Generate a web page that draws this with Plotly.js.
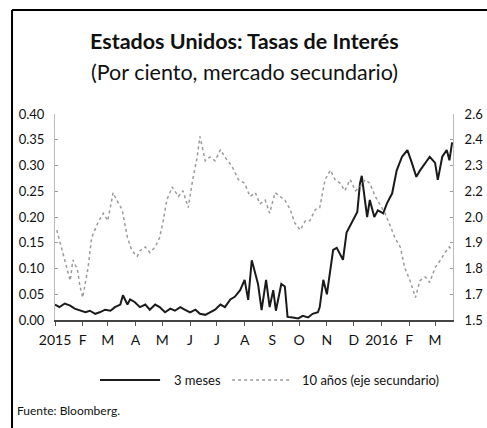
<!DOCTYPE html>
<html>
<head>
<meta charset="utf-8">
<script src="https://cdn.plot.ly/plotly-3.0.1.min.js"></script>
<style>html,body{margin:0;padding:0;background:#fff;}#chart{width:487px;height:428px;}</style>
</head>
<body>
<div id="chart"></div>
<script>
// 3-month T-bill (left axis)
var dates3m = ['2015-01-01','2015-01-06','2015-01-12','2015-01-18','2015-01-23','2015-01-29','2015-02-04','2015-02-09','2015-02-15','2015-02-20','2015-02-26','2015-03-04','2015-03-09','2015-03-15','2015-03-18','2015-03-23','2015-03-26','2015-03-31','2015-04-06','2015-04-12','2015-04-17','2015-04-23','2015-04-28','2015-05-04','2015-05-10','2015-05-15','2015-05-21','2015-05-26','2015-06-01','2015-06-07','2015-06-12','2015-06-18','2015-06-23','2015-06-29','2015-07-05','2015-07-10','2015-07-16','2015-07-21','2015-07-27','2015-08-01','2015-08-05','2015-08-09','2015-08-13','2015-08-16','2015-08-20','2015-08-25','2015-08-29','2015-09-02','2015-09-05','2015-09-11','2015-09-15','2015-09-18','2015-09-24','2015-09-30','2015-10-05','2015-10-11','2015-10-16','2015-10-22','2015-10-24','2015-10-28','2015-11-01','2015-11-08','2015-11-12','2015-11-19','2015-11-23','2015-11-29','2015-12-05','2015-12-08','2015-12-10','2015-12-16','2015-12-19','2015-12-24','2015-12-28','2016-01-03','2016-01-07','2016-01-13','2016-01-18','2016-01-24','2016-01-30','2016-02-04','2016-02-09','2016-02-13','2016-02-19','2016-02-24','2016-03-01','2016-03-04','2016-03-09','2016-03-14','2016-03-17','2016-03-20'];
var rate3m = [0.030,0.025,0.032,0.028,0.022,0.018,0.015,0.018,0.012,0.015,0.020,0.018,0.025,0.030,0.048,0.030,0.040,0.035,0.025,0.030,0.020,0.030,0.025,0.015,0.022,0.018,0.025,0.020,0.015,0.020,0.012,0.010,0.015,0.020,0.030,0.025,0.040,0.045,0.058,0.078,0.039,0.116,0.090,0.070,0.019,0.078,0.025,0.058,0.018,0.070,0.065,0.006,0.005,0.003,0.008,0.005,0.012,0.015,0.025,0.078,0.050,0.136,0.140,0.117,0.170,0.190,0.210,0.265,0.280,0.200,0.233,0.200,0.213,0.207,0.226,0.246,0.290,0.317,0.330,0.305,0.278,0.290,0.305,0.317,0.305,0.272,0.317,0.330,0.310,0.345];

// 10-year Treasury (right axis)
var dates10y = ['2015-01-03','2015-01-09','2015-01-14','2015-01-18','2015-01-21','2015-01-26','2015-01-29','2015-02-01','2015-02-07','2015-02-11','2015-02-18','2015-02-24','2015-03-01','2015-03-07','2015-03-11','2015-03-17','2015-03-23','2015-03-28','2015-04-03','2015-04-06','2015-04-12','2015-04-17','2015-04-23','2015-04-28','2015-05-02','2015-05-06','2015-05-12','2015-05-19','2015-05-24','2015-05-30','2015-06-04','2015-06-09','2015-06-12','2015-06-18','2015-06-23','2015-06-29','2015-07-05','2015-07-10','2015-07-18','2015-07-25','2015-08-01','2015-08-07','2015-08-13','2015-08-18','2015-08-24','2015-08-29','2015-09-04','2015-09-10','2015-09-15','2015-09-21','2015-09-26','2015-10-02','2015-10-08','2015-10-13','2015-10-19','2015-10-24','2015-10-30','2015-11-05','2015-11-10','2015-11-16','2015-11-21','2015-11-27','2015-12-03','2015-12-08','2015-12-14','2015-12-19','2015-12-25','2015-12-30','2016-01-05','2016-01-11','2016-01-16','2016-01-22','2016-01-27','2016-02-02','2016-02-08','2016-02-13','2016-02-19','2016-02-24','2016-03-01','2016-03-07','2016-03-12','2016-03-17','2016-03-20'];
var rate10y = [1.98,1.87,1.78,1.71,1.82,1.77,1.68,1.62,1.78,1.94,2.02,2.07,2.03,2.18,2.14,2.09,1.94,1.87,1.84,1.87,1.89,1.86,1.89,1.94,2.03,2.14,2.21,2.16,2.19,2.10,2.25,2.37,2.48,2.35,2.37,2.35,2.41,2.37,2.32,2.25,2.23,2.16,2.18,2.12,2.14,2.07,2.18,2.16,2.14,2.09,2.02,1.98,2.03,2.03,2.09,2.10,2.25,2.30,2.25,2.23,2.19,2.25,2.19,2.21,2.25,2.23,2.16,2.12,2.07,2.00,1.94,1.89,1.78,1.71,1.62,1.71,1.73,1.70,1.78,1.82,1.86,1.89,1.87];

var seriesNames = ['3 meses', '10 años (eje secundario)'];
var xTickVals = ['2015-01-01','2015-02-01','2015-03-01','2015-04-01','2015-05-01','2015-06-01','2015-07-01','2015-08-01','2015-09-01','2015-10-01','2015-11-01','2015-12-01','2016-01-01','2016-02-01','2016-03-01'];
var xTickText = ['2015','F','M','A','M','J','J','A','S','O','N','D','2016','F','M'];
var yLeftTicks = [0,0.05,0.10,0.15,0.20,0.25,0.30,0.35,0.40];
var yLeftText = ['0.00','0.05','0.10','0.15','0.20','0.25','0.30','0.35','0.40'];
var yRightTicks = [1.5,1.6375,1.775,1.9125,2.05,2.1875,2.325,2.4625,2.6];
var yRightText = ['1.5','1.7','1.8','1.9','2.0','2.2','2.3','2.4','2.6'];

var font = 'Lato, "Open Sans", sans-serif';
var c3m = '#1a1a1a', c10 = '#9a9a9a';

var traces = [
  {x: dates3m, y: rate3m, type: 'scatter', mode: 'lines', name: seriesNames[0],
   line: {color: c3m, width: 2}, yaxis: 'y'},
  {x: dates10y, y: rate10y, type: 'scatter', mode: 'lines', name: seriesNames[1],
   line: {color: c10, width: 1.5, dash: 'dot'}, yaxis: 'y2'}
];

var legY = -0.291;
var layout = {
  width: 487, height: 428,
  margin: {l: 55, r: 34, t: 114, b: 108},
  paper_bgcolor: '#fff', plot_bgcolor: '#fff',
  font: {family: font, color: '#111', size: 12},
  showlegend: false,
  xaxis: {type: 'date', range: ['2015-01-01','2016-03-21'], tickmode: 'array',
          tickvals: xTickVals, ticktext: xTickText, ticks: 'outside', ticklen: 4,
          tickcolor: '#555', showline: true, linecolor: '#444', linewidth: 1.5,
          showgrid: false, zeroline: false, ticklabelstandoff: 3,
          tickfont: {size: 14, family: font}},
  yaxis: {range: [0, 0.40], tickmode: 'array', tickvals: yLeftTicks, ticktext: yLeftText,
          showline: true, linecolor: '#bbb', linewidth: 1, ticks: 'inside', ticklen: 3,
          tickcolor: '#999', showgrid: false, zeroline: false, ticklabelstandoff: 7,
          tickfont: {size: 13, family: font}},
  yaxis2: {range: [1.5, 2.6], overlaying: 'y', side: 'right', tickmode: 'array',
           tickvals: yRightTicks, ticktext: yRightText, showline: true, linecolor: '#bbb',
           linewidth: 1, ticks: 'inside', ticklen: 3, tickcolor: '#999', showgrid: false,
           zeroline: false, ticklabelstandoff: 8, tickfont: {size: 13, family: font}},
  annotations: [
    {text: '<b>Estados Unidos: Tasas de Interés</b>', xref: 'paper', yref: 'paper',
     x: 0.475, y: 1.355, xanchor: 'center', yanchor: 'middle', showarrow: false,
     font: {size: 21.5, family: font, color: '#111'}},
    {text: '(Por ciento, mercado secundario)', xref: 'paper', yref: 'paper',
     x: 0.475, y: 1.205, xanchor: 'center', yanchor: 'middle', showarrow: false,
     font: {size: 21.5, family: font, color: '#111'}},
    {text: seriesNames[0], xref: 'paper', yref: 'paper', x: 0.294, y: legY,
     xanchor: 'left', yanchor: 'middle', showarrow: false, font: {size: 13, family: font}},
    {text: seriesNames[1], xref: 'paper', yref: 'paper', x: 0.616, y: legY,
     xanchor: 'left', yanchor: 'middle', showarrow: false, font: {size: 13, family: font}},
    {text: 'Fuente: Bloomberg.', xref: 'paper', yref: 'paper',
     x: -0.1, y: -0.437, xanchor: 'left', yanchor: 'middle', showarrow: false,
     font: {size: 12, family: font, color: '#111'}}
  ],
  shapes: [
    {type: 'line', xref: 'paper', yref: 'paper', x0: -0.108, x1: -0.108, y0: 1.505, y1: -0.53,
     line: {color: '#000', width: 2}},
    {type: 'line', xref: 'paper', yref: 'paper', x0: -0.108, x1: 1.09, y0: 1.505, y1: 1.505,
     line: {color: '#000', width: 2}},
    {type: 'line', xref: 'paper', yref: 'paper', x0: 0.113, x1: 0.264, y0: legY, y1: legY,
     line: {color: c3m, width: 2}},
    {type: 'line', xref: 'paper', yref: 'paper', x0: 0.445, x1: 0.590, y0: legY, y1: legY,
     line: {color: c10, width: 1.5, dash: 'dot'}}
  ]
};

Plotly.newPlot('chart', traces, layout, {displayModeBar: false, staticPlot: true});
</script>
</body>
</html>
